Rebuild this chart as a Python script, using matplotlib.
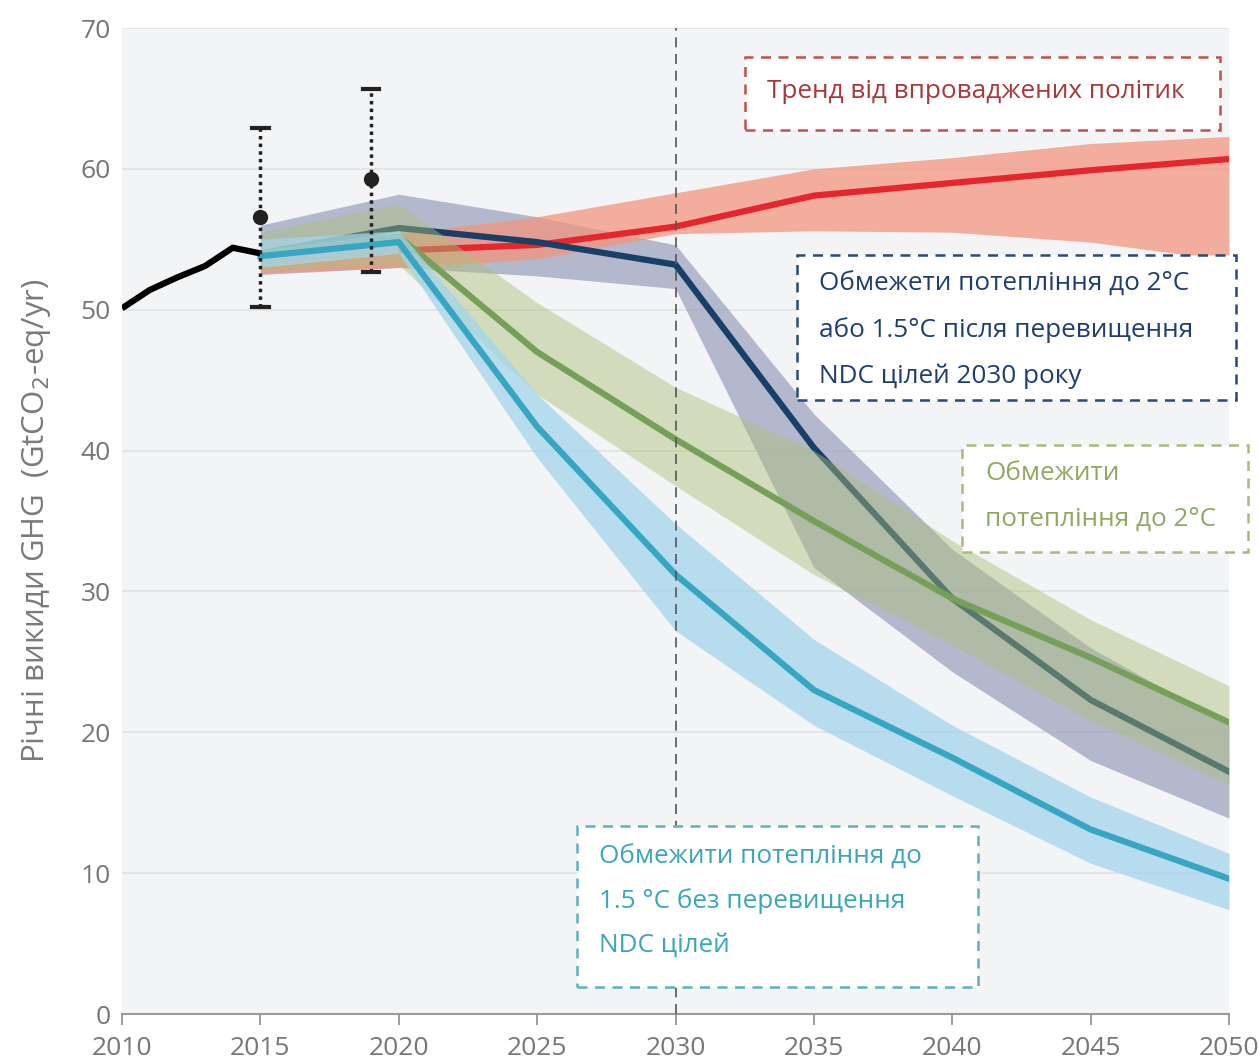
import matplotlib
matplotlib.use("Agg")
import matplotlib.pyplot as plt

# Historical emissions (GtCO2-eq/yr)
hist_years = [2010, 2011, 2012, 2013, 2014, 2015]
hist_vals = [50.1, 51.4, 52.3, 53.1, 54.4, 54.0]

# Estimates with uncertainty ranges
err_years = [2015, 2019]
err_mid = [56.6, 59.3]
err_low = [50.2, 52.7]
err_high = [62.9, 65.7]

years = [2015, 2020, 2025, 2030, 2035, 2040, 2045, 2050]

# Trend from implemented policies
pol_mid = [54.0, 54.2, 54.6, 55.9, 58.1, 59.0, 59.9, 60.7]
pol_low = [52.6, 53.0, 53.6, 55.4, 55.6, 55.5, 54.8, 53.5]
pol_high = [54.6, 55.4, 56.6, 58.3, 60.0, 60.8, 61.8, 62.3]

# Limit to 2°C or 1.5°C after overshoot, NDC 2030
ndc_mid = [54.0, 55.8, 54.8, 53.2, 40.2, 29.5, 22.3, 17.2]
ndc_low = [52.5, 53.0, 52.4, 51.5, 31.7, 24.3, 18.0, 13.9]
ndc_high = [56.0, 58.2, 56.6, 54.6, 42.6, 33.0, 26.0, 20.5]

# Limit to 2°C
c2_mid = [54.0, 55.2, 47.0, 40.8, 35.0, 29.5, 25.3, 20.7]
c2_low = [52.8, 53.2, 44.0, 37.5, 31.2, 26.2, 20.8, 16.3]
c2_high = [55.5, 57.5, 50.5, 44.5, 40.0, 33.6, 28.0, 23.3]

# Limit to 1.5°C without overshoot
c15_mid = [53.8, 54.8, 41.7, 31.2, 23.0, 18.2, 13.1, 9.6]
c15_low = [53.0, 54.0, 39.5, 27.2, 20.5, 15.5, 10.7, 7.4]
c15_high = [55.0, 55.6, 44.0, 34.8, 26.6, 20.5, 15.4, 11.4]

xticks = [2010, 2015, 2020, 2025, 2030, 2035, 2040, 2045, 2050]
yticks = [0, 10, 20, 30, 40, 50, 60, 70]

plt.rcParams['font.family'] = ['Open Sans', 'DejaVu Sans']

fig = plt.figure(figsize=(12.59, 10.64), dpi=100)
ax = fig.add_axes([122 / 1259, 1 - 1014 / 1064, (1229 - 122) / 1259, (1014 - 28) / 1064])
ax.set_facecolor('#f3f4f6')
ax.set_xlim(2010, 2050)
ax.set_ylim(0, 70)

for y in yticks[1:]:
    ax.axhline(y, color='#e0e1e3', lw=1.2, zorder=0)

# Bands and central pathways
ax.fill_between(years, ndc_low, ndc_high, color='#a4a9c3', alpha=0.8, lw=0, zorder=1)
ax.fill_between(years, pol_low, pol_high, color='#f3957f', alpha=0.75, lw=0, zorder=2)
ax.plot(years[1:], pol_mid[1:], color='#e5262d', lw=4.5, zorder=3, solid_capstyle='butt')
ax.plot(years, ndc_mid, color='#173f68', lw=4.5, zorder=4)
ax.fill_between(years, c2_low, c2_high, color='#abc078', alpha=0.45, lw=0, zorder=5)
ax.plot(years, c2_mid, color='#76a05a', lw=4.5, zorder=6)
ax.fill_between(years, c15_low, c15_high, color='#a3d5ea', alpha=0.75, lw=0, zorder=7)
ax.plot(years, c15_mid, color='#37a6c2', lw=4.5, zorder=8)

ax.plot(hist_years, hist_vals, color='black', lw=4.5, zorder=9, solid_capstyle='butt')

# Uncertainty ranges
for x, m, lo, hi in zip(err_years, err_mid, err_low, err_high):
    ax.plot([x, x], [lo, hi], color='#222222', lw=2.5, ls=(0, (1, 1.2)), zorder=10)
    ax.plot([x - 0.3, x + 0.3], [lo, lo], color='#222222', lw=3, zorder=10)
    ax.plot([x - 0.3, x + 0.3], [hi, hi], color='#222222', lw=3, zorder=10)
    ax.plot(x, m, 'o', color='#222222', ms=10, zorder=11)

ax.axvline(2030, color='#555555', lw=1.2, ls=(0, (6, 4)), zorder=12)

ax.set_xticks(xticks)
ax.set_yticks(yticks)
ax.tick_params(axis='x', colors='#8c8c8c', labelsize=19, length=8, width=1.2, pad=8,
               labelcolor='#767676')
ax.tick_params(axis='y', length=0, labelsize=19, pad=8, labelcolor='#767676')
for s in ['top', 'left', 'right']:
    ax.spines[s].set_visible(False)
ax.spines['bottom'].set_color('#9a9a9a')
ax.spines['bottom'].set_linewidth(1.5)

ax.set_ylabel('Річні викиди GHG  (GtCO$_2$-eq/yr)', fontsize=22.5, color='#7a7a7a', labelpad=20)


def note(x0, y0, x1, y1, lines, color, edge, x_text, y_first, dy):
    # dashed annotation box in pixel coordinates of the figure
    W, H = 1259, 1064
    rect = plt.Rectangle((x0 / W, 1 - y1 / H), (x1 - x0) / W, (y1 - y0) / H,
                         transform=fig.transFigure, facecolor='white', edgecolor=edge,
                         lw=1.8, ls=(0, (4, 3)), zorder=20)
    fig.add_artist(rect)
    for i, t in enumerate(lines):
        fig.text(x_text / W, 1 - (y_first + i * dy) / H, t, color=color, fontsize=18.8,
                 ha='left', va='center', zorder=21)


note(745, 57, 1220, 130, ['Тренд від впроваджених політик'], '#a8383c', '#c0504d',
     767, 92, 0)
note(797, 255, 1236, 400, ['Обмежети потепління до 2°C', 'або 1.5°C після перевищення',
                           'NDC цілей 2030 року'], '#1e3f6e', '#2a4a75', 819, 284, 46)
note(962, 445, 1248, 552, ['Обмежити', 'потепління до 2°C'], '#8eaa5e', '#a6bd78',
     985, 474, 45)
note(577, 826, 978, 987, ['Обмежити потепління до', '1.5 °C без перевищення', 'NDC цілей'],
     '#3aa7b8', '#5ab3bf', 599, 857, 44)

fig.savefig('out.png', dpi=100, facecolor='white')
